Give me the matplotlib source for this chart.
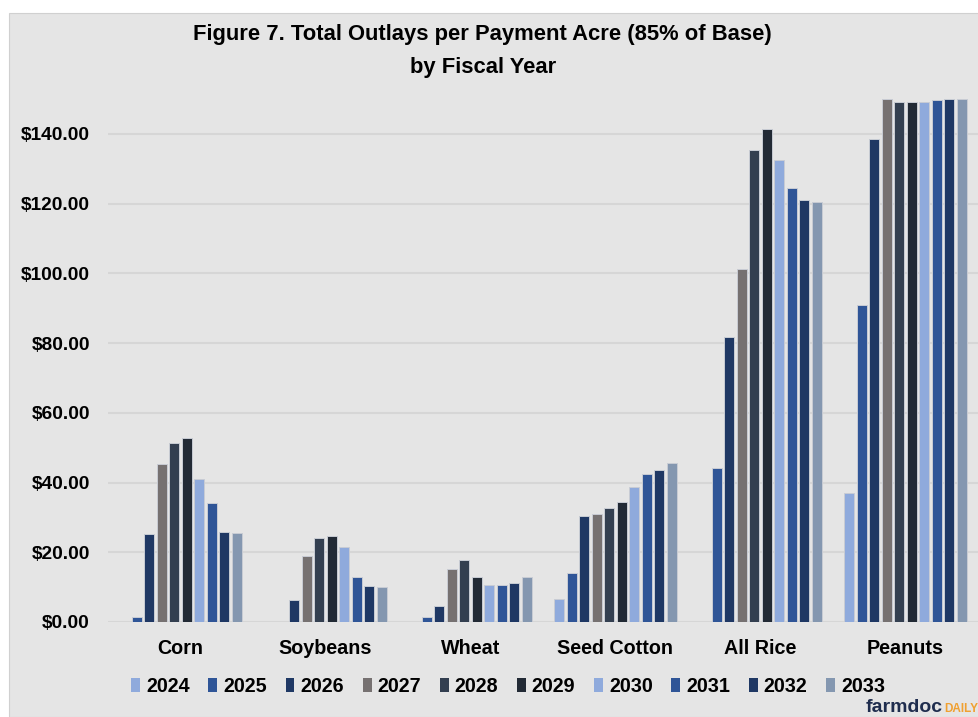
import numpy as np
import matplotlib.pyplot as plt
from matplotlib.patches import Rectangle

plt.rcParams['font.family'] = ['Liberation Sans', 'DejaVu Sans']

# data
crops = ['Corn', 'Soybeans', 'Wheat', 'Seed Cotton', 'All Rice', 'Peanuts']
years = ['2024', '2025', '2026', '2027', '2028', '2029', '2030', '2031', '2032', '2033']
colors = ['#8faadc', '#2f5597', '#1f3864', '#767171', '#333f50',
          '#222a35', '#8faadc', '#2f5597', '#1f3864', '#8497b0']

v2024 = [0.0, 0.0, 0.0, 6.6, 0.0, 36.9]
v2025 = [1.4, 0.0, 1.4, 14.1, 44.3, 91.0]
v2026 = [25.2, 6.3, 4.5, 30.4, 81.7, 138.6]
v2027 = [45.3, 19.0, 15.3, 31.0, 101.2, 150.0]
v2028 = [51.3, 24.0, 17.8, 32.6, 135.5, 149.1]
v2029 = [52.7, 24.6, 12.8, 34.4, 141.3, 149.1]
v2030 = [40.9, 21.5, 10.6, 38.7, 132.4, 149.1]
v2031 = [34.1, 12.9, 10.6, 42.5, 124.4, 149.7]
v2032 = [25.7, 10.4, 11.3, 43.5, 121.0, 150.0]
v2033 = [25.4, 10.1, 12.8, 45.5, 120.4, 150.0]
series = [v2024, v2025, v2026, v2027, v2028, v2029, v2030, v2031, v2032, v2033]

W, H = 979, 717
fig = plt.figure(figsize=(W / 100, H / 100), dpi=100)
fig.patch.set_facecolor('white')
bg = '#e5e5e5'
fig.patches.append(Rectangle((9 / W, 0), 1 - 9 / W, 1 - 13 / H, transform=fig.transFigure,
                             facecolor=bg, edgecolor='#d0d0d0', lw=0.8, zorder=-10))

ax = fig.add_axes([108 / W, (H - 622) / H, (978 - 108) / W, (622 - 99) / H])
ax.set_facecolor(bg)

x = np.arange(len(crops))
pitch = 0.0866
bw = 0.069
for i, (yr, vals) in enumerate(zip(years, series)):
    ax.bar(x + (i - 4.5) * pitch, vals, width=bw, color=colors[i], edgecolor='#c8ccd4',
           linewidth=0.7, label=yr, zorder=3)

ax.set_xlim(-0.5, 5.5)
ax.set_ylim(0, 150)
ax.set_yticks(np.arange(0, 141, 20))
ax.set_yticklabels([f'${v:.2f}' for v in np.arange(0, 141, 20)])
ax.yaxis.grid(True, color='#d6d6d6', linewidth=1.5, zorder=0)
ax.set_axisbelow(True)
for s in ax.spines.values():
    s.set_visible(False)
ax.tick_params(axis='y', length=0, labelsize=13.8, pad=13)
ax.tick_params(axis='x', length=0, pad=12)
ax.set_xticks(x)
ax.set_xticklabels(crops, fontweight='bold', fontsize=14.2)
for t in ax.get_yticklabels():
    t.set_fontweight('bold')

fig.text(0.493, 1 - 51 / H, 'Figure 7. Total Outlays per Payment Acre (85% of Base)\nby Fiscal Year',
         ha='center', va='center', fontsize=15.8, fontweight='bold', linespacing=1.7)

leg = fig.legend(loc='center', bbox_to_anchor=(0.519, 1 - 686 / H), ncol=10, frameon=False,
                 fontsize=14.2, handlelength=0.45, handleheight=0.7, handletextpad=0.3,
                 columnspacing=0.95)
for t in leg.get_texts():
    t.set_fontweight('bold')
for h in leg.legend_handles:
    h.set_edgecolor('none')

fig.text(866 / W, 1 / H, 'farmdoc', color='#1f2d4e', fontsize=14, fontweight='bold',
         ha='left', va='bottom')
fig.text(944 / W, 2 / H, 'DAILY', color='#f0a030', fontsize=8.5, fontweight='bold',
         ha='left', va='bottom')

fig.savefig('out.png', dpi=100)
